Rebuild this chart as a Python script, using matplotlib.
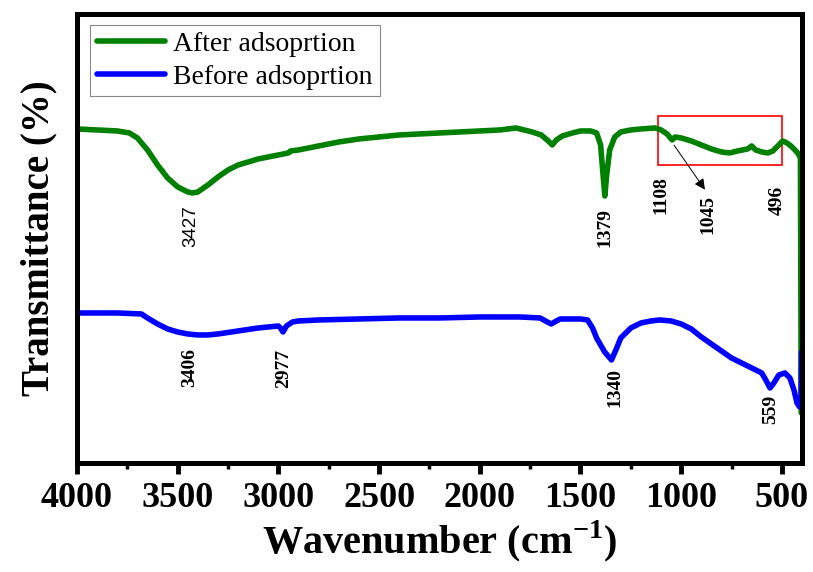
import matplotlib
matplotlib.use("Agg")
import matplotlib.pyplot as plt
from matplotlib.patches import Rectangle

plt.rcParams["mathtext.fontset"] = "custom"
plt.rcParams["mathtext.rm"] = "Liberation Serif"
plt.rcParams["mathtext.bf"] = "Liberation Serif:bold"

# FTIR spectra (arbitrary transmittance units)
wn_after = [4000, 3900, 3800, 3740, 3700, 3650, 3600, 3550, 3500, 3450, 3427, 3400,
            3350, 3300, 3250, 3200, 3100, 3000, 2950, 2940, 2900, 2800, 2700, 2600,
            2500, 2400, 2300, 2200, 2100, 2000, 1900, 1820, 1740, 1695, 1660, 1640,
            1620, 1590, 1540, 1500, 1450, 1420, 1400, 1390, 1379, 1370, 1355, 1330,
            1300, 1250, 1200, 1130, 1100, 1070, 1045, 1030, 1000, 950, 900, 850,
            800, 760, 720, 695, 670, 650, 630, 600, 570, 545, 515, 496, 475, 455,
            435, 418, 408, 404]
t_after = [334, 333, 332, 330, 325, 313, 298, 285, 276, 271, 270, 271,
           278, 286, 293, 298, 304, 308, 310, 312, 313, 317, 321, 324,
           326, 328, 329, 330, 331, 332, 333, 335, 331, 328, 322, 318,
           323, 327, 330, 332, 332, 330, 318, 293, 267, 288, 313, 326,
           331, 333, 334, 335, 333, 329, 323, 326, 325, 322, 318, 314,
           311, 310, 312, 313, 314, 317, 313, 311, 310, 312, 318, 322, 320, 317,
           313, 309, 305, 50]

wn_before = [4000, 3800, 3680, 3650, 3600, 3550, 3500, 3450, 3400, 3350, 3300, 3200,
             3100, 3000, 2990, 2977, 2960, 2930, 2900, 2800, 2600, 2400, 2200, 2000,
             1800, 1700, 1665, 1645, 1620, 1600, 1500, 1465, 1440, 1420, 1400, 1380,
             1346, 1320, 1300, 1250, 1200, 1150, 1107, 1050, 1000, 950, 900, 850,
             800, 750, 700, 650, 600, 580, 559, 540, 515, 485, 460, 440, 425, 412,
             405, 403]
t_before = [150, 150, 149, 145, 139, 134, 131, 129, 128, 128, 129, 132,
            135, 137, 135, 131, 137, 141, 142, 143, 144, 145, 145, 146,
            146, 145, 141, 139, 142, 144, 144, 143, 135, 125, 118, 111,
            103, 115, 125, 135, 140, 142, 143, 142, 139, 134, 126, 119,
            112, 105, 100, 95, 90, 83, 75, 80, 88, 90, 85, 73, 60, 56,
            56, 111]

# peak labels: text, wavenumber position, height, font
peak_text = ["3427", "1379", "1108", "1045", "496", "3406", "2977", "1340", "559"]
peak_x = [3433, 1381, 1103, 869, 521, 3438, 2976, 1331, 556]
peak_y = [237, 235, 268, 248, 263, 95, 95, 75, 54]
peak_sans = [True, False, False, False, False, False, False, False, False]

fig = plt.figure(figsize=(8.13, 5.72), dpi=100)
ax = fig.add_axes([0.0947, 0.1906, 0.8918, 0.785])

ax.plot(wn_after, t_after, color="#008000", lw=4.0, label="After adsoprtion",
        solid_joinstyle="round", solid_capstyle="round")
ax.plot(wn_before, t_before, color="#0000FF", lw=4.0, label="Before adsoprtion",
        solid_joinstyle="round", solid_capstyle="round")

ax.set_xlim(4000, 400)
ax.set_ylim(0, 449)
ax.set_yticks([])
ax.set_xticks(range(4000, 499, -500))
ax.set_xticks(range(3750, 499, -500), minor=True)
ax.tick_params(axis="x", which="major", length=8, width=3.5, direction="out", pad=6)
ax.tick_params(axis="x", which="minor", length=4, width=2.5, direction="out")
for lbl in ax.get_xticklabels():
    lbl.set_fontfamily("Liberation Serif")
    lbl.set_fontweight("bold")
    lbl.set_fontsize(26)
for sp in ax.spines.values():
    sp.set_linewidth(3.6)

ax.set_xlabel("Wavenumber (cm$^{\\mathbf{-1}}$)", family="Liberation Serif",
              fontweight="bold", fontsize=29, labelpad=2)
ax.set_ylabel("Transmittance (%)", family="Liberation Serif",
              fontweight="bold", fontsize=28, labelpad=14)

for txt, px, py, sans in zip(peak_text, peak_x, peak_y, peak_sans):
    if sans:
        ax.text(px, py, txt, rotation=90, ha="center", va="center",
                family="Liberation Sans", fontsize=13.5)
    else:
        ax.text(px, py, txt, rotation=90, ha="center", va="center",
                family="Liberation Serif", fontweight="bold", fontsize=14)

ax.annotate("", xy=(874, 271), xytext=(1043, 320),
            arrowprops=dict(arrowstyle="-|>", color="black", lw=0.7,
                            mutation_scale=16))
ax.add_patch(Rectangle((1117, 298), 500 - 1117, 49, fill=False,
                       edgecolor="red", lw=1.2))

leg = ax.legend(loc="upper left", bbox_to_anchor=(0.018, 0.976), borderaxespad=0,
                prop={"family": "Liberation Serif", "size": 20},
                fancybox=False, edgecolor="#888888", framealpha=1,
                handlelength=2.45, handletextpad=0.3, labelspacing=0.25,
                borderpad=0.25)
leg.get_frame().set_linewidth(0.8)

fig.savefig("out.png", dpi=100)
